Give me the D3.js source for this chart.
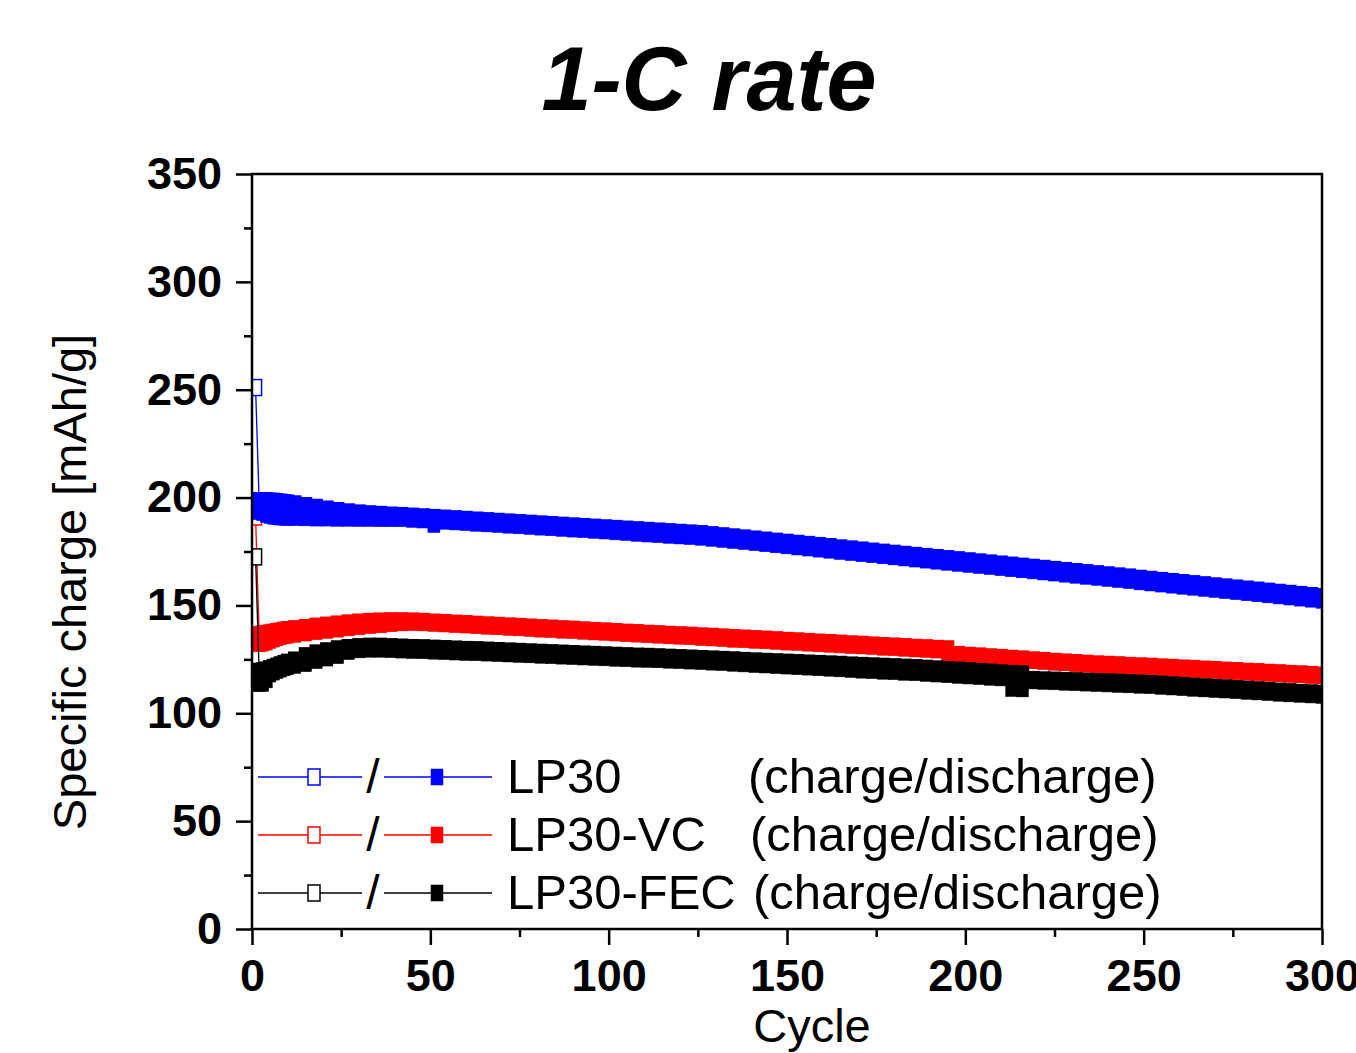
<!DOCTYPE html>
<html>
<head>
<meta charset="utf-8">
<script src="https://cdn.jsdelivr.net/npm/d3@7/dist/d3.min.js"></script>
<style>
  html, body { margin: 0; padding: 0; background: #fff; }
  svg { display: block; }
  text { font-family: "Liberation Sans", Arial, Helvetica, sans-serif; }
</style>
</head>
<body>
<svg id="chart" width="1356" height="1053"></svg>
<script>
// ---------------- data ----------------
const cycles = [1,2,3,4,5,6,7,8,9,10,
  12,15,18,21,24,27,30,33,36,39,
  42,45,48,51,54,57,60,63,66,69,72,75,78,81,84,87,90,93,96,99,
  102,105,108,111,114,117,120,123,126,129,132,135,138,141,144,147,150,153,156,159,
  162,165,168,171,174,177,180,183,186,189,192,195,198,201,204,207,210,213,216,219,
  222,225,228,231,234,237,240,243,246,249,252,255,258,261,264,267,270,273,276,279,
  282,285,288,291,294,297,300];

const lp30Charge = [251.0,198.5,198.5,198.4,198.3,198.2,198.0,197.8,197.6,197.4,
  197.0,196.2,195.4,194.6,193.9,193.3,192.8,192.4,192.1,191.8,
  191.6,191.3,191.0,190.7,190.4,190.1,189.8,189.5,189.2,188.9,188.6,188.3,188.0,187.7,187.4,187.1,186.8,186.5,186.2,185.9,
  185.6,185.3,185.0,184.7,184.4,184.1,183.8,183.5,183.2,182.7,182.2,181.7,181.2,180.7,180.2,179.7,179.2,178.7,178.2,177.7,
  177.2,176.6,176.1,175.6,175.1,174.6,174.1,173.6,173.1,172.6,172.1,171.6,171.1,170.6,170.1,169.6,169.1,168.6,168.1,167.6,
  167.1,166.6,166.1,165.6,165.1,164.6,164.1,163.6,163.1,162.5,162.0,161.5,161.0,160.5,160.0,159.5,159.0,158.5,158.0,157.5,
  157.0,156.5,156.0,155.5,155.0,154.5,154.0];

const lp30Discharge = [194.5,193.5,193.0,192.3,191.8,191.4,191.1,191.0,190.9,190.8,
  190.7,190.6,190.5,190.5,190.4,190.4,190.3,190.3,190.2,190.2,
  190.2,189.9,189.6,187.5,189.0,188.7,188.4,188.1,187.8,187.5,187.2,186.9,186.6,186.3,186.0,185.7,185.4,185.1,184.8,184.5,
  184.1,183.8,183.4,183.1,182.8,182.5,182.2,181.9,181.6,181.1,180.6,180.1,179.6,179.1,178.6,178.1,177.6,177.1,176.6,176.1,
  175.6,175.0,174.5,174.0,173.5,173.0,172.5,172.0,171.5,171.0,170.5,170.0,169.5,169.0,168.5,168.0,167.5,167.0,166.5,166.0,
  165.5,165.0,164.5,164.0,163.5,163.0,162.5,162.0,161.5,160.9,160.4,159.9,159.4,158.9,158.4,157.9,157.4,156.9,156.4,155.9,
  155.4,154.9,154.4,153.9,153.4,152.9,152.4];

const vcCharge = [191.0,136.4,136.6,136.9,137.2,137.5,137.8,138.1,138.4,138.7,
  139.1,139.7,140.3,140.8,141.3,141.8,142.2,142.5,142.7,142.8,
  142.8,142.7,142.5,142.2,142.0,141.7,141.5,141.2,140.9,140.7,140.4,140.2,139.9,139.6,139.4,139.1,138.9,138.6,138.3,138.1,
  137.8,137.5,137.3,137.0,136.8,136.5,136.3,136.1,135.8,135.6,135.3,135.0,134.8,134.5,134.3,134.0,133.7,133.5,133.2,132.9,
  132.7,132.4,132.1,131.9,131.6,131.3,131.1,130.8,130.5,130.3,130.0,129.8,127.2,126.8,126.5,126.1,125.8,125.4,125.1,124.7,
  124.4,124.0,123.7,123.4,123.1,122.8,122.6,122.4,122.1,121.9,121.7,121.4,121.2,120.9,120.7,120.4,120.2,119.9,119.7,119.4,
  119.2,118.9,118.7,118.4,118.2,117.9,117.6];

const vcDischarge = [133.0,132.2,132.5,133.0,133.8,134.4,135.0,135.5,135.9,136.2,
  136.6,137.2,137.8,138.4,139.0,139.6,140.1,140.6,141.0,141.5,
  141.9,142.0,141.9,141.6,141.4,141.1,140.9,140.6,140.3,140.1,139.8,139.6,139.3,139.0,138.8,138.5,138.3,138.0,137.7,137.5,
  137.2,136.9,136.7,136.4,136.2,135.9,135.7,135.5,135.1,134.9,134.6,134.3,134.1,133.8,133.6,133.3,133.0,132.8,132.5,132.2,
  132.0,131.7,131.4,131.2,130.9,130.6,130.4,130.1,129.8,129.6,129.3,126.8,126.7,126.5,126.2,125.8,125.5,125.1,124.8,124.4,
  124.1,123.7,123.4,123.1,122.8,122.5,122.3,122.1,121.8,121.6,121.4,121.1,120.9,120.6,120.4,120.1,119.9,119.6,119.4,119.1,
  118.9,118.6,118.4,118.1,117.9,117.6,117.3];

const fecCharge = [172.5,119.4,119.6,120.0,120.6,121.2,121.8,122.4,123.0,123.6,
  124.6,126.6,127.9,128.9,129.8,130.4,130.8,131.0,131.0,130.8,
  130.6,130.4,130.3,130.1,129.9,129.7,129.5,129.4,129.2,129.0,128.8,128.6,128.4,128.2,128.0,127.8,127.6,127.4,127.2,127.0,
  126.8,126.6,126.4,126.3,126.1,125.9,125.7,125.5,125.3,125.1,124.9,124.7,124.4,124.2,124.0,123.8,123.6,123.4,123.2,123.0,
  122.8,122.6,122.3,122.1,121.9,121.7,121.5,121.3,121.1,120.8,120.5,120.2,119.9,119.6,119.3,119.0,118.7,118.4,118.2,115.6,
  115.4,115.3,115.1,115.0,114.8,114.6,114.5,114.3,114.1,113.9,113.7,113.4,113.1,112.8,112.5,112.2,111.9,111.7,111.4,111.1,
  110.8,110.5,110.2,109.9,109.6,109.4,109.1];

const fecDischarge = [114.5,113.7,113.9,115.5,118.2,119.1,119.8,120.5,121.1,121.6,
  122.2,123.0,124.4,125.6,126.7,128.6,129.4,129.7,129.7,129.5,
  129.3,129.1,129.0,128.8,128.6,128.4,128.2,128.1,127.9,127.7,127.5,127.3,127.1,126.9,126.7,126.5,126.3,126.1,125.9,125.7,
  125.5,125.3,125.1,125.0,124.8,124.6,124.4,124.2,124.0,123.7,123.5,123.2,122.9,122.6,122.4,122.1,121.9,121.6,121.4,121.1,
  120.9,120.6,120.3,120.0,119.8,119.5,119.3,119.0,118.8,118.5,118.2,117.9,117.6,117.3,117.0,116.7,116.4,111.5,111.3,115.0,
  114.8,114.6,114.4,114.2,114.0,113.8,113.6,113.4,113.2,113.0,112.8,112.5,112.2,111.9,111.6,111.3,111.0,110.8,110.5,110.2,
  109.9,109.6,109.3,109.0,108.8,108.5,108.3];

const xTicks = [0, 50, 100, 150, 200, 250, 300];
const xMinorTicks = [25, 75, 125, 175, 225, 275];
const yTicks = [0, 50, 100, 150, 200, 250, 300, 350];
const yMinorTicks = [25, 75, 125, 175, 225, 275, 325];

const seriesNames = ["LP30", "LP30-VC", "LP30-FEC"];
const seriesColors = ["#0000ff", "#ff0000", "#000000"];
const seriesCharge = [lp30Charge, vcCharge, fecCharge];
const seriesDischarge = [lp30Discharge, vcDischarge, fecDischarge];
const legendSuffix = "(charge/discharge)";

// ---------------- layout ----------------
const svg = d3.select("#chart");
const L = 252, R = 1322, T = 174, B = 929;
const x = d3.scaleLinear().domain([0, 300]).range([L, R]);
const y = d3.scaleLinear().domain([0, 350]).range([B, T]);
const MW = 12, MH = 16;

// title
svg.append("text")
  .attr("x", 709).attr("y", 110)
  .attr("text-anchor", "middle")
  .attr("font-size", 90).attr("font-weight", "bold").attr("font-style", "italic")
  .text("1-C rate");

// clip
svg.append("defs").append("clipPath").attr("id", "plotclip")
  .append("rect").attr("x", L).attr("y", T).attr("width", R - L).attr("height", B - T);

const plot = svg.append("g").attr("clip-path", "url(#plotclip)");

// drawing order: red, black, blue
const order = [1, 2, 0];
order.forEach(si => {
  const col = seriesColors[si];
  const g = plot.append("g");
  [["c", seriesCharge[si]], ["d", seriesDischarge[si]]].forEach(([kind, vals]) => {
    const pts = cycles.map((c, i) => [c, vals[i], i]);
    g.append("path")
      .attr("d", d3.line().x(d => x(d[0])).y(d => y(d[1]))(pts))
      .attr("fill", "none").attr("stroke", col).attr("stroke-width", 1.3);
    // dense overlapping open squares read as a solid band; only the isolated
    // first-cycle open square shows its white interior
    g.selectAll("rect." + kind).data(pts).enter().append("rect")
      .attr("class", kind)
      .attr("x", d => x(d[0]) - MW / 2)
      .attr("y", d => y(d[1]) - MH / 2)
      .attr("width", MW).attr("height", MH)
      .attr("fill", d => (kind === "c" && d[2] === 0) ? "#fff" : col)
      .attr("stroke", col)
      .attr("stroke-width", kind === "c" ? 1.5 : 0.5);
  });
});

// axes
const axisFont = 45;
svg.append("g").attr("transform", `translate(${L},0)`)
  .call(d3.axisLeft(y).tickValues(yTicks).tickSize(16).tickSizeOuter(0).tickPadding(14));
svg.append("g").attr("transform", `translate(${L},0)`)
  .call(d3.axisLeft(y).tickValues(yMinorTicks).tickSize(8).tickSizeOuter(0).tickFormat(""));
svg.append("g").attr("transform", `translate(0,${B})`)
  .call(d3.axisBottom(x).tickValues(xTicks).tickSize(16).tickSizeOuter(0).tickPadding(14));
svg.append("g").attr("transform", `translate(0,${B})`)
  .call(d3.axisBottom(x).tickValues(xMinorTicks).tickSize(8).tickSizeOuter(0).tickFormat(""));

svg.selectAll(".domain").remove();
svg.selectAll(".tick line").attr("stroke", "#000").attr("stroke-width", 2.5);
svg.selectAll(".tick text")
  .attr("font-size", axisFont).attr("font-weight", "bold")
  .attr("font-family", '"Liberation Sans", Arial, sans-serif').attr("fill", "#000");

// frame
svg.append("rect").attr("x", L).attr("y", T).attr("width", R - L).attr("height", B - T)
  .attr("fill", "none").attr("stroke", "#000").attr("stroke-width", 2.5);

// axis titles
svg.append("text")
  .attr("transform", "translate(86,582) rotate(-90)")
  .attr("text-anchor", "middle").attr("font-size", 47)
  .text("Specific charge [mAh/g]");
svg.append("text")
  .attr("x", 812).attr("y", 1042)
  .attr("text-anchor", "middle").attr("font-size", 47)
  .text("Cycle");

// legend
const legY = [777, 835, 893];
const legend = svg.append("g");
seriesNames.forEach((name, i) => {
  const col = seriesColors[i];
  const yy = legY[i];
  const g = legend.append("g");
  g.append("line").attr("x1", 258).attr("x2", 362).attr("y1", yy).attr("y2", yy)
    .attr("stroke", col).attr("stroke-width", 1.3);
  g.append("line").attr("x1", 384).attr("x2", 492).attr("y1", yy).attr("y2", yy)
    .attr("stroke", col).attr("stroke-width", 1.3);
  g.append("rect").attr("x", 314 - MW / 2).attr("y", yy - MH / 2).attr("width", MW).attr("height", MH)
    .attr("fill", "#fff").attr("stroke", col).attr("stroke-width", 1.5);
  g.append("rect").attr("x", 437 - MW / 2).attr("y", yy - MH / 2).attr("width", MW).attr("height", MH)
    .attr("fill", col).attr("stroke", col).attr("stroke-width", 0.5);
  g.append("text").attr("x", 373).attr("y", yy + 16).attr("text-anchor", "middle")
    .attr("font-size", 48).text("/");
  g.append("text").attr("x", 507).attr("y", yy + 16).attr("font-size", 49).text(name);
  g.append("text").attr("x", [748, 750, 753][i]).attr("y", yy + 16).attr("font-size", 49).text(legendSuffix);
});
</script>
</body>
</html>
